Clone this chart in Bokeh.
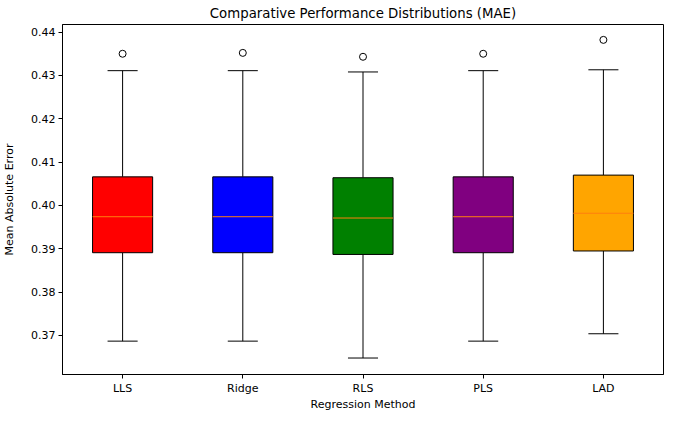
from bokeh.plotting import figure
from bokeh.models import ColumnDataSource, FixedTicker, PrintfTickFormatter, Range1d
from bokeh.embed import file_html
from bokeh.resources import INLINE

methods = ["LLS", "Ridge", "RLS", "PLS", "LAD"]
colors = ["red", "blue", "green", "purple", "orange"]
whisker_low = [0.3687, 0.3687, 0.3648, 0.3687, 0.3704]
q1 = [0.3891, 0.3891, 0.3887, 0.3891, 0.3895]
median = [0.3974, 0.3974, 0.3971, 0.3974, 0.3982]
q3 = [0.4066, 0.4066, 0.4064, 0.4066, 0.4070]
whisker_high = [0.4311, 0.4311, 0.4308, 0.4311, 0.4313]
outliers = [0.4350, 0.4352, 0.4343, 0.4350, 0.4382]
y_ticks = [0.37, 0.38, 0.39, 0.40, 0.41, 0.42, 0.43, 0.44]

pos = list(range(1, len(methods) + 1))
box_w = 0.5
cap_w = 0.25

src = ColumnDataSource(dict(
    x=pos, left=[p - box_w / 2 for p in pos], right=[p + box_w / 2 for p in pos],
    cl=[p - cap_w / 2 for p in pos], cr=[p + cap_w / 2 for p in pos],
    lo=whisker_low, q1=q1, med=median, q3=q3, hi=whisker_high, out=outliers, color=colors,
))

FONT = "DejaVu Sans"
p = figure(width=665, height=413, output_backend="svg", toolbar_location=None,
           x_range=Range1d(0.5, 5.5), y_range=Range1d(0.3610, 0.44175),
           title="Comparative Performance Distributions (MAE)",
           min_border_left=0, min_border_right=2, min_border_top=0, min_border_bottom=0)

p.segment(x0="x", y0="lo", x1="x", y1="q1", source=src, line_color="black", line_width=1)
p.segment(x0="x", y0="q3", x1="x", y1="hi", source=src, line_color="black", line_width=1)
p.segment(x0="cl", y0="lo", x1="cr", y1="lo", source=src, line_color="black", line_width=1)
p.segment(x0="cl", y0="hi", x1="cr", y1="hi", source=src, line_color="black", line_width=1)
p.quad(left="left", right="right", bottom="q1", top="q3", source=src,
       fill_color="color", line_color="black", line_width=1)
p.segment(x0="left", y0="med", x1="right", y1="med", source=src, line_color="#ff7f0e", line_width=1)
p.scatter(x="x", y="out", source=src, size=7, fill_color=None, line_color="black", line_width=1)

p.title.align = "center"
p.title.text_font = FONT
p.title.text_font_size = "13.3px"
p.title.text_font_style = "normal"
p.title.text_color = "black"
p.title.standoff = 7

p.xaxis.ticker = FixedTicker(ticks=pos)
p.xaxis.major_label_overrides = {i: m for i, m in zip(pos, methods)}
p.yaxis.ticker = FixedTicker(ticks=y_ticks)
p.yaxis.formatter = PrintfTickFormatter(format="%.2f")
p.xaxis.axis_label = "Regression Method"
p.yaxis.axis_label = "Mean Absolute Error"

for ax in (p.xaxis, p.yaxis):
    ax.axis_label_text_font = FONT
    ax.axis_label_text_font_size = "11px"
    ax.axis_label_text_font_style = "normal"
    ax.axis_label_text_color = "black"
    ax.major_label_text_font = FONT
    ax.major_label_text_font_size = "11px"
    ax.major_label_text_color = "black"
    ax.major_tick_out = 4
    ax.major_tick_in = 0
    ax.minor_tick_out = 0
    ax.minor_tick_in = 0
    ax.axis_line_color = "black"
    ax.major_tick_line_color = "black"
    ax.major_label_standoff = 3
p.xaxis.axis_label_standoff = 0
p.yaxis.axis_label_standoff = 12

p.xgrid.visible = False
p.ygrid.visible = False
p.outline_line_color = "black"
p.outline_line_alpha = 1.0

open("out.html", "w").write(file_html(p, INLINE))
